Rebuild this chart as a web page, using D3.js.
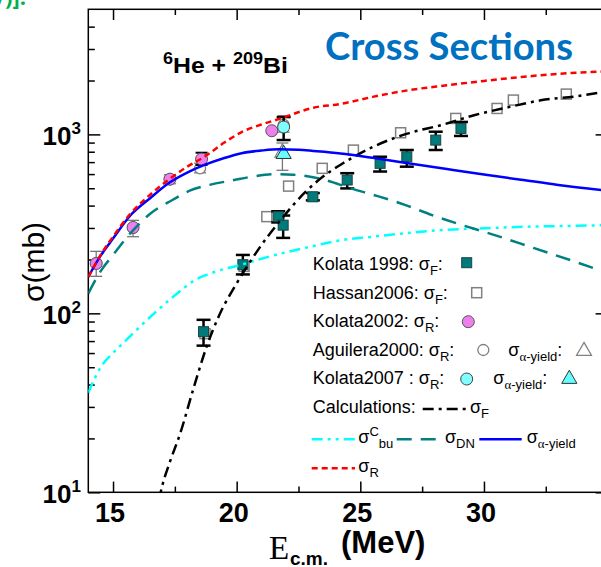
<!DOCTYPE html>
<html>
<head>
<meta charset="utf-8">
<script src="https://cdn.jsdelivr.net/npm/d3@7"></script>
<style>
  body { margin: 0; background: #fff; }
  svg { display: block; font-family: "Liberation Sans", Arial, sans-serif; }
</style>
</head>
<body>
<svg id="chart"></svg>
<script>
const width = 601;
const height = 567;
const plot = {left: 88.3, right: 607.6, top: 9.3, bottom: 492.3};

// axes
const xDomain = [14, 35];
const yDomain = [10, 5000];
const xMajorTicks = [15, 20, 25, 30, 35];
const xMinorTicks = [17.5, 22.5, 27.5, 32.5];
const xTickLabels = [15, 20, 25, 30];
const yMajorTicks = [10, 100, 1000];
const yMinorTicks = [20, 30, 40, 50, 60, 70, 80, 90, 200, 300, 400, 500, 600, 700, 800, 900, 2000, 3000, 4000];

// calculations [E_cm, sigma]
const calcSigmaR = [[14, 160], [14.5, 212], [15, 268], [15.7, 360], [16.5, 460], [17.3, 565], [18, 660],
  [18.7, 750], [19.5, 900], [20.2, 1030], [21, 1135], [21.8, 1230], [23.1, 1410], [24.2, 1480],
  [25.5, 1620], [27, 1770], [28.5, 1880], [30, 1990], [31.5, 2090], [33, 2180], [35, 2250]];
const calcSigmaAlpha = [[14, 160], [14.5, 210], [15, 262], [15.7, 352], [16.5, 440], [17.3, 540], [18, 612],
  [18.7, 675], [19.5, 738], [20.2, 785], [21, 812], [21.7, 825], [22.5, 820], [23.1, 808], [24.2, 783],
  [25.5, 740], [27, 688], [28.5, 640], [30, 596], [31.5, 558], [33, 522], [35, 485]];
const calcSigmaDN = [[14, 129], [14.5, 172], [15, 212], [15.8, 290], [16.5, 360], [17.4, 430], [18.1, 485],
  [18.9, 522], [19.9, 556], [20.6, 580], [21.5, 600], [22.3, 595], [23.6, 555], [24.6, 500], [25.7, 452],
  [26.8, 404], [27.9, 354], [29, 315], [30.5, 272], [32, 232], [33.7, 194], [35, 168]];
const calcSigmaBu = [[14, 36], [14.5, 50], [15, 60], [15.4, 68], [16, 82], [16.8, 104], [17.5, 126],
  [18.3, 153], [19.2, 172], [20.2, 187], [21, 202], [21.8, 216], [23, 236], [24.2, 256], [25.5, 268],
  [27, 282], [28.3, 292], [30, 299], [31.8, 305], [33.5, 308], [35, 311]];
const calcSigmaF = [[16.85, 9], [17.0, 11], [17.3, 14.8], [17.7, 21], [18.3, 40], [18.8, 66], [19.3, 98],
  [20, 147], [20.9, 230], [21.8, 335], [22.8, 480], [23.7, 610], [24.3, 690], [25.5, 850], [26.9, 1010],
  [28.3, 1130], [29.6, 1280], [31, 1420], [32.3, 1550], [33.7, 1630], [35, 1740]];

// measurements
const kolata1998E = [18.66, 20.25, 21.68, 21.88, 23.08, 24.47, 25.8, 26.88, 28.05, 29.07];
const kolata1998Sigma = [79, 187, 347, 311, 448, 556, 689, 750, 929, 1080];
const kolata1998Lo = [66, 165, 322, 264, 428, 499, 620, 660, 818, 980];
const kolata1998Hi = [92, 212, 372, 352, 470, 607, 750, 818, 1035, 1174];

const hassan2006E = [18.72, 20.3, 21.22, 22.1, 23.46, 24.72, 26.63, 28.86, 30.53, 31.19, 33.33];
const hassan2006Sigma = [77, 183, 347, 514, 646, 817, 1021, 1228, 1396, 1555, 1679];

const kolata2002E = [14.32, 15.81, 17.3, 18.58, 21.42];
const kolata2002Sigma = [190, 302, 562, 728, 1048];
const kolata2002Lo = [190, 302, 562, 675, 1048];
const kolata2002Hi = [190, 302, 562, 790, 1048];

const aguilera2000E = [14.32, 15.81, 17.3, 18.52, 21.9];
const aguilera2000Sigma = [190, 300, 560, 646, 1130];
const aguilera2000Lo = [161, 268, 530, 610, 1030];
const aguilera2000Hi = [222, 331, 595, 690, 1270];
const aguileraAlphaE = [21.85];
const aguileraAlphaSigma = [790];
const aguileraAlphaLo = [630];
const aguileraAlphaHi = [895];

const kolata2007E = [21.9];
const kolata2007Sigma = [1099];
const kolata2007Lo = [930];
const kolata2007Hi = [1250];
const kolata2007AlphaE = [21.9];
const kolata2007AlphaSigma = [776];

const svg = d3.select('#chart')
  .attr('width', width)
  .attr('height', height);

const x = d3.scaleLinear().domain(xDomain).range([plot.left, plot.right]);
const y = d3.scaleLog().domain(yDomain).range([plot.bottom, plot.top]);

svg.append('defs').append('clipPath').attr('id', 'clip')
  .append('rect')
  .attr('x', plot.left).attr('y', plot.top)
  .attr('width', plot.right - plot.left).attr('height', plot.bottom - plot.top);

// slide text cut off at the top
svg.append('text')
  .attr('x', 26).attr('y', 5)
  .attr('text-anchor', 'end')
  .attr('font-family', 'Open Sans, sans-serif')
  .attr('font-weight', 'bold').attr('font-size', 22)
  .attr('fill', '#00B050')
  .text('V)]:');

// frame and inward ticks
svg.append('rect')
  .attr('x', plot.left).attr('y', plot.top)
  .attr('width', plot.right - plot.left).attr('height', plot.bottom - plot.top)
  .attr('fill', 'none').attr('stroke', '#000').attr('stroke-width', 1.5);

function ticks(axis, values, size, transform) {
  svg.append('g')
    .attr('transform', transform)
    .call(axis.tickValues(values).tickSize(-size).tickSizeOuter(0).tickFormat(() => ''))
    .call(g => g.select('.domain').remove())
    .selectAll('line').attr('stroke', '#000').attr('stroke-width', 1.5);
}

ticks(d3.axisBottom(x), xMajorTicks, 10.7, `translate(0, ${plot.bottom})`);
ticks(d3.axisBottom(x), xMinorTicks, 5.7, `translate(0, ${plot.bottom})`);
ticks(d3.axisTop(x), xMajorTicks, 10.7, `translate(0, ${plot.top})`);
ticks(d3.axisTop(x), xMinorTicks, 5.7, `translate(0, ${plot.top})`);
ticks(d3.axisLeft(y), yMajorTicks, 12, `translate(${plot.left}, 0)`);
ticks(d3.axisLeft(y), yMinorTicks, 6.5, `translate(${plot.left}, 0)`);
ticks(d3.axisRight(y), yMajorTicks, 12, `translate(${plot.right}, 0)`);
ticks(d3.axisRight(y), yMinorTicks, 6.5, `translate(${plot.right}, 0)`);

svg.selectAll('.xlabel')
  .data(xTickLabels)
  .join('text')
  .attr('x', d => x(d) - 3)
  .attr('y', 522)
  .attr('text-anchor', 'middle')
  .attr('font-weight', 'bold').attr('font-size', 27)
  .text(d => d);

const yLabels = svg.selectAll('.ylabel')
  .data(yMajorTicks)
  .join('text')
  .attr('x', 81)
  .attr('y', d => y(d) + 10.5)
  .attr('text-anchor', 'end')
  .attr('font-weight', 'bold');
yLabels.append('tspan').attr('font-size', 26).text('10');
yLabels.append('tspan').attr('font-size', 17).attr('dy', -11).text(d => Math.round(Math.log10(d)));

// axis titles
svg.append('text')
  .attr('transform', 'translate(44, 262) rotate(-90)')
  .attr('text-anchor', 'middle')
  .attr('font-size', 30)
  .text('σ(mb)');

svg.append('text')
  .attr('x', 269).attr('y', 559)
  .attr('font-family', 'Liberation Serif, serif')
  .attr('font-size', 33)
  .text('E');
svg.append('text')
  .attr('x', 290).attr('y', 565)
  .attr('font-weight', 'bold').attr('font-size', 19)
  .text('c.m.');
svg.append('text')
  .attr('x', 341).attr('y', 553)
  .attr('font-weight', 'bold').attr('font-size', 31)
  .text('(MeV)');

// titles inside the plot
const title = svg.append('text')
  .attr('x', 325).attr('y', 60)
  .attr('font-family', 'Lato, sans-serif')
  .attr('font-weight', 'bold').attr('font-size', 36)
  .attr('fill', '#0070C0')
  .text('Cross Sections');
const titleWidth = title.node().getComputedTextLength();
title.attr('font-size', 36 * 248 / titleWidth);

const reaction = svg.append('text')
  .attr('x', 163).attr('y', 72.7)
  .attr('font-weight', 'bold').attr('font-size', 22);
reaction.append('tspan').attr('font-size', 16).attr('dy', -9).text('6');
reaction.append('tspan').attr('dy', 9).text('He + ');
reaction.append('tspan').attr('font-size', 16).attr('dy', -9).text('209');
reaction.append('tspan').attr('dy', 9).text('Bi');
const reactionWidth = reaction.node().getComputedTextLength();
reaction.attr('transform', `translate(163, 0) scale(${125 / reactionWidth}, 1) translate(-163, 0)`);

// markers
const markers = {
  kolata1998: (g) => g.append('rect').attr('x', -5).attr('y', -5).attr('width', 10).attr('height', 10)
    .attr('fill', '#007A7A').attr('stroke', '#1d4444').attr('stroke-width', 1),
  hassan2006: (g) => g.append('rect').attr('x', -5).attr('y', -5).attr('width', 10).attr('height', 10)
    .attr('fill', '#fff').attr('stroke', '#808080').attr('stroke-width', 1.5),
  kolata2002: (g) => g.append('circle').attr('r', 6)
    .attr('fill', '#EE80EE').attr('stroke', '#555').attr('stroke-width', 1),
  aguileraR: (g) => g.append('circle').attr('r', 5.5)
    .attr('fill', '#fff').attr('stroke', '#808080').attr('stroke-width', 1.3),
  aguileraAlpha: (g) => g.append('path').attr('d', d3.symbol(d3.symbolTriangle, 95)())
    .attr('fill', '#fff').attr('stroke', '#808080').attr('stroke-width', 1.3),
  kolata2007R: (g) => g.append('circle').attr('r', 6)
    .attr('fill', '#7FFFFF').attr('stroke', '#444').attr('stroke-width', 1),
  kolata2007Alpha: (g) => g.append('path').attr('d', d3.symbol(d3.symbolTriangle, 100)())
    .attr('fill', '#66FFFF').attr('stroke', '#333').attr('stroke-width', 1)
};

function errorBars(E, lo, hi, color, strokeWidth, cap) {
  const g = svg.append('g').attr('stroke', color).attr('stroke-width', strokeWidth);
  const data = d3.zip(E, lo, hi).filter(d => d[1] !== d[2]);
  g.selectAll('.bar').data(data).join('line')
    .attr('x1', d => x(d[0])).attr('x2', d => x(d[0]))
    .attr('y1', d => y(d[1])).attr('y2', d => y(d[2]));
  g.selectAll('.caplo').data(data).join('line')
    .attr('x1', d => x(d[0]) - cap).attr('x2', d => x(d[0]) + cap)
    .attr('y1', d => y(d[1])).attr('y2', d => y(d[1]));
  g.selectAll('.caphi').data(data).join('line')
    .attr('x1', d => x(d[0]) - cap).attr('x2', d => x(d[0]) + cap)
    .attr('y1', d => y(d[2])).attr('y2', d => y(d[2]));
}

function points(E, sigma, marker) {
  svg.append('g').selectAll('g')
    .data(d3.zip(E, sigma))
    .join('g')
    .attr('transform', d => `translate(${x(d[0])}, ${y(d[1])})`)
    .each(function() { marker(d3.select(this)); });
}

points(hassan2006E, hassan2006Sigma, markers.hassan2006);
errorBars(aguilera2000E, aguilera2000Lo, aguilera2000Hi, '#777', 1.3, 6);
errorBars(aguileraAlphaE, aguileraAlphaLo, aguileraAlphaHi, '#777', 1.3, 6);
points(aguilera2000E, aguilera2000Sigma, markers.aguileraR);
points(aguileraAlphaE, aguileraAlphaSigma, markers.aguileraAlpha);
errorBars(kolata1998E, kolata1998Lo, kolata1998Hi, '#000', 2.5, 7);
points(kolata1998E, kolata1998Sigma, markers.kolata1998);
errorBars(kolata2002E, kolata2002Lo, kolata2002Hi, '#000', 2, 6);
points(kolata2002E, kolata2002Sigma, markers.kolata2002);
errorBars(kolata2007E, kolata2007Lo, kolata2007Hi, '#000', 2.5, 7);
points(kolata2007E, kolata2007Sigma, markers.kolata2007R);
points(kolata2007AlphaE, kolata2007AlphaSigma, markers.kolata2007Alpha);

// calculation curves
const styles = {
  bu: {color: '#00FFFF', dash: '11,5,3,5,3,5'},
  dn: {color: '#008080', dash: '15,9'},
  alpha: {color: '#0000FF', dash: null},
  r: {color: '#FF0000', dash: '6,4'},
  f: {color: '#000', dash: '11,5,3,5'}
};

const line = d3.line()
  .x(d => x(d[0]))
  .y(d => y(d[1]))
  .curve(d3.curveMonotoneX);

const curves = svg.append('g').attr('clip-path', 'url(#clip)');
[[calcSigmaBu, styles.bu], [calcSigmaDN, styles.dn], [calcSigmaF, styles.f],
  [calcSigmaAlpha, styles.alpha], [calcSigmaR, styles.r]].forEach(([data, s]) => {
  curves.append('path')
    .attr('d', line(data))
    .attr('fill', 'none')
    .attr('stroke', s.color)
    .attr('stroke-width', 2.5)
    .attr('stroke-dasharray', s.dash);
});

// legend
const legend = svg.append('g').attr('font-size', 18);

function richText(x0, y0, parts) {
  const t = legend.append('text').attr('x', x0).attr('y', y0);
  let shift = 0;
  parts.forEach(p => {
    const target = p.sub ? 5 : p.sup ? -7 : 0;
    const ts = t.append('tspan').attr('dy', target - shift).text(p.t);
    if (p.sub || p.sup) ts.attr('font-size', 13);
    if (p.serif) ts.attr('font-family', 'Liberation Serif, serif');
    shift = target;
  });
}

function legendMarker(cx, cy, marker) {
  marker(legend.append('g').attr('transform', `translate(${cx}, ${cy})`));
}

function legendLine(x1, x2, ly, s) {
  legend.append('line')
    .attr('x1', x1).attr('x2', x2).attr('y1', ly).attr('y2', ly)
    .attr('stroke', s.color).attr('stroke-width', 2.5)
    .attr('stroke-dasharray', s.dash);
}

const alphaYield = [{t: 'σ'}, {t: 'α', sub: true, serif: true}, {t: '-yield', sub: true}];

richText(312.7, 270, [{t: 'Kolata 1998: σ'}, {t: 'F', sub: true}, {t: ':'}]);
legendMarker(466.7, 262.7, markers.kolata1998);
richText(312.7, 298.5, [{t: 'Hassan2006: σ'}, {t: 'F', sub: true}, {t: ':'}]);
legendMarker(476.7, 292.7, markers.hassan2006);
richText(312.7, 327, [{t: 'Kolata2002: σ'}, {t: 'R', sub: true}, {t: ':'}]);
legendMarker(468.3, 321.7, markers.kolata2002);
richText(312.7, 355.5, [{t: 'Aguilera2000: σ'}, {t: 'R', sub: true}, {t: ':'}]);
legendMarker(483.3, 350, markers.aguileraR);
richText(508.3, 355.5, [...alphaYield, {t: ':'}]);
legendMarker(584, 351, markers.aguileraAlpha);
richText(312.7, 384, [{t: 'Kolata2007 : σ'}, {t: 'R', sub: true}, {t: ':'}]);
legendMarker(466.7, 379, markers.kolata2007R);
richText(493.3, 384, [...alphaYield, {t: ':'}]);
legendMarker(569.3, 379, markers.kolata2007Alpha);
richText(312.7, 413, [{t: 'Calculations:'}]);
legendLine(422.7, 466, 409, styles.f);
richText(470, 413, [{t: 'σ'}, {t: 'F', sub: true}]);
legendLine(311.7, 355, 439.3, styles.bu);
richText(358.3, 443, [{t: 'σ'}, {t: 'C', sup: true}, {t: 'bu', sub: true}]);
legendLine(396.7, 443.3, 439.3, styles.dn);
richText(445, 443, [{t: 'σ'}, {t: 'DN', sub: true}]);
legendLine(479.3, 521.7, 439.3, styles.alpha);
richText(526.7, 443, alphaYield);
legendLine(311.7, 355, 468.3, styles.r);
richText(358.3, 472, [{t: 'σ'}, {t: 'R', sub: true}]);
</script>
</body>
</html>
